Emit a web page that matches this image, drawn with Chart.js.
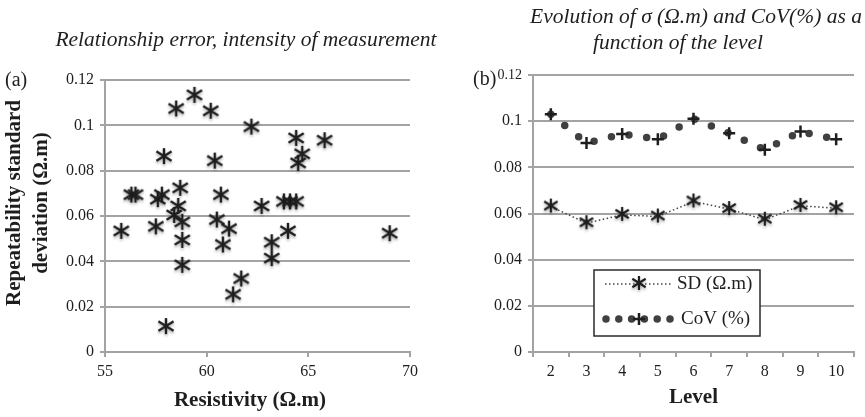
<!DOCTYPE html>
<html>
<head>
<meta charset="utf-8">
<script src="https://cdn.jsdelivr.net/npm/chart.js@4/dist/chart.umd.min.js"></script>
<style>
  html, body { margin: 0; padding: 0; background: #fff; }
  #wrap { position: relative; width: 865px; height: 417px; overflow: hidden; }
  canvas { position: absolute; top: 0; }
  #chartA { left: 0; }
  #chartB { left: 440px; }
</style>
</head>
<body>
<div id="wrap">
  <canvas id="chartA" width="440" height="417"></canvas>
  <canvas id="chartB" width="425" height="417"></canvas>
</div>
<script>
// ---- panel (a): repeatability standard deviation vs resistivity
const resistivity = [55.8, 56.3, 56.5, 57.5, 57.6, 57.8, 57.9, 58.0, 58.4, 58.5,
                     58.6, 58.7, 58.8, 58.8, 58.8, 59.4, 60.2, 60.4, 60.5, 60.7,
                     60.8, 61.1, 61.3, 61.7, 62.2, 62.7, 63.2, 63.2, 63.8, 64.0,
                     64.1, 64.4, 64.4, 64.5, 64.7, 65.8, 69.0];
const repeatSD    = [0.053, 0.069, 0.069, 0.055, 0.067, 0.069, 0.086, 0.011, 0.060, 0.107,
                     0.064, 0.072, 0.057, 0.049, 0.038, 0.113, 0.106, 0.084, 0.058, 0.069,
                     0.047, 0.054, 0.025, 0.032, 0.099, 0.064, 0.048, 0.041, 0.066, 0.053,
                     0.066, 0.066, 0.094, 0.083, 0.087, 0.093, 0.052];
const xTicksA = [55, 60, 65, 70];

// ---- panel (b): SD and CoV by level
const levels     = ['2', '3', '4', '5', '6', '7', '8', '9', '10'];
const sdByLevel  = [0.063, 0.0558, 0.0594, 0.0587, 0.0652, 0.0619, 0.0573, 0.0633, 0.0623];
const covByLevel = [0.103, 0.0905, 0.0944, 0.0922, 0.101, 0.0948, 0.0876, 0.0955, 0.0922];

const yTicks = [0, 0.02, 0.04, 0.06, 0.08, 0.1, 0.12];

const INK = '#1e1e1e';
const GRID = '#a3a3a3';
const SERIF = '"Liberation Serif", "Times New Roman", serif';

// six-armed asterisk marker drawn once into a small canvas
function asterisk(size, lw) {
  const pad = 5;
  const c = document.createElement('canvas');
  c.width = c.height = size + pad * 2;
  const g = c.getContext('2d');
  g.translate(c.width / 2, c.height / 2 - 1);
  g.strokeStyle = INK;
  g.lineWidth = lw;
  g.shadowColor = 'rgba(0,0,0,0.3)';
  g.shadowBlur = 3;
  g.shadowOffsetY = 2;
  const r = size / 2;
  g.beginPath();
  g.moveTo(0, -r); g.lineTo(0, r);
  g.moveTo(-r * 0.95, -r * 0.6); g.lineTo(r * 0.95, r * 0.6);
  g.moveTo(-r * 0.95, r * 0.6); g.lineTo(r * 0.95, -r * 0.6);
  g.stroke();
  return c;
}

const starA = asterisk(16, 2.4);
const starB = asterisk(14, 2.2);

const fmt = v => String(+v.toFixed(2));
const tickFont = { family: SERIF, size: 16 };
const titleFont = { family: SERIF, size: 21, weight: 'bold' };

// titles, axis titles and the (a)/(b) tags
const panelText = {
  id: 'panelText',
  afterDraw(chart, args, o) {
    const ctx = chart.ctx;
    ctx.save();
    ctx.fillStyle = INK;
    ctx.textBaseline = 'middle';
    ctx.textAlign = 'center';
    ctx.font = 'italic 21.5px ' + SERIF;
    o.title.forEach((line, i) => ctx.fillText(line, o.titleX[i], o.titleY + i * 26));
    ctx.font = 'bold 21px ' + SERIF;
    (o.axisTitles || []).forEach(t => {
      ctx.save();
      ctx.translate(t.x, t.y);
      ctx.rotate(t.rot || 0);
      ctx.fillText(t.text, 0, 0);
      ctx.restore();
    });
    ctx.textAlign = 'left';
    ctx.font = '20px ' + SERIF;
    ctx.fillText(o.tag, o.tagX, o.tagY);
    ctx.restore();
  }
};

// boxed legend sitting inside the plot of panel (b)
const legendBox = {
  id: 'legendBox',
  afterDatasetsDraw(chart) {
    const ctx = chart.ctx;
    const x = 154, y = 270, w = 166, h = 66;
    ctx.save();
    ctx.fillStyle = '#fff';
    ctx.fillRect(x, y, w, h);
    ctx.strokeStyle = '#2a2a2a';
    ctx.lineWidth = 1.5;
    ctx.strokeRect(x, y, w, h);

    // SD row
    const r1 = 284;
    ctx.strokeStyle = '#444';
    ctx.lineWidth = 1.5;
    ctx.setLineDash([1.5, 2.5]);
    ctx.beginPath(); ctx.moveTo(165, r1); ctx.lineTo(233, r1); ctx.stroke();
    ctx.setLineDash([]);
    ctx.drawImage(starB, 199 - starB.width / 2, r1 - starB.height / 2);

    // CoV row
    const r2 = 319;
    ctx.strokeStyle = '#404040';
    ctx.lineWidth = 7.5;
    ctx.lineCap = 'round';
    ctx.setLineDash([0, 12.8]);
    ctx.beginPath(); ctx.moveTo(166, r2); ctx.lineTo(232, r2); ctx.stroke();
    ctx.setLineDash([]);
    ctx.lineCap = 'butt';
    ctx.strokeStyle = INK;
    ctx.lineWidth = 2.5;
    ctx.beginPath();
    ctx.moveTo(193, r2); ctx.lineTo(205, r2);
    ctx.moveTo(199, r2 - 6); ctx.lineTo(199, r2 + 6);
    ctx.stroke();

    ctx.fillStyle = INK;
    ctx.font = '19px ' + SERIF;
    ctx.textBaseline = 'middle';
    ctx.fillText('SD (Ω.m)', 237, r1);
    ctx.fillText('CoV (%)', 241, r2);
    ctx.restore();
  }
};

new Chart(document.getElementById('chartA'), {
  type: 'scatter',
  data: {
    datasets: [{
      label: 'Repeatability SD',
      data: resistivity.map((x, i) => ({ x: x, y: repeatSD[i] })),
      pointStyle: starA,
      pointRadius: 8,
      showLine: false
    }]
  },
  options: {
    responsive: false,
    animation: false,
    layout: { padding: { top: 80, right: 30, left: 0, bottom: 0 } },
    plugins: {
      legend: { display: false },
      tooltip: { enabled: false },
      panelText: {
        title: ['Relationship error, intensity of measurement'],
        titleX: [246], titleY: 40,
        tag: '(a)', tagX: 5, tagY: 81,
        axisTitles: [
          { text: 'Resistivity (Ω.m)', x: 250, y: 401 },
          { text: 'Repeatability standard', x: 15, y: 203, rot: -Math.PI / 2 },
          { text: 'deviation (Ω.m)', x: 42, y: 203, rot: -Math.PI / 2 }
        ]
      }
    },
    scales: {
      x: {
        type: 'linear', min: 55, max: 70,
        afterBuildTicks: s => { s.ticks = xTicksA.map(v => ({ value: v })); },
        afterFit: s => { s.height = 65; },
        ticks: { color: INK, font: tickFont, padding: 5 },
        grid: { drawOnChartArea: false, color: GRID, lineWidth: 2, tickLength: 5 },
        border: { color: GRID, width: 2 }
      },
      y: {
        min: 0, max: 0.12,
        afterBuildTicks: s => { s.ticks = yTicks.map(v => ({ value: v })); },
        afterFit: s => { s.width = 105; },
        ticks: { color: INK, font: tickFont, padding: 6, callback: fmt },
        grid: { color: GRID, lineWidth: 2, tickLength: 5 },
        border: { color: GRID, width: 2 }
      }
    }
  },
  plugins: [panelText]
});

new Chart(document.getElementById('chartB'), {
  type: 'line',
  data: {
    labels: levels,
    datasets: [{
      label: 'SD (Ω.m)',
      data: sdByLevel,
      borderColor: '#444',
      borderWidth: 1.5,
      borderDash: [1.5, 2.5],
      pointStyle: starB,
      pointRadius: 7,
      tension: 0
    }, {
      label: 'CoV (%)',
      data: covByLevel,
      borderColor: '#404040',
      borderWidth: 7.5,
      borderDash: [0, 17.9],
      borderCapStyle: 'round',
      pointStyle: 'cross',
      pointRadius: 6,
      pointBorderWidth: 2.5,
      pointBorderColor: INK,
      tension: 0
    }]
  },
  options: {
    responsive: false,
    animation: false,
    layout: { padding: { top: 75, right: 11, left: 0, bottom: 0 } },
    plugins: {
      legend: { display: false },
      tooltip: { enabled: false },
      panelText: {
        title: ['Evolution of σ (Ω.m) and CoV(%) as a', 'function of the level'],
        titleX: [256, 238], titleY: 17,
        tag: '(b)', tagX: 33, tagY: 80
      }
    },
    scales: {
      x: {
        offset: true,
        afterFit: s => { s.height = 65; },
        ticks: { color: INK, font: tickFont, padding: 5 },
        grid: { offset: true, drawOnChartArea: false, color: GRID, lineWidth: 2, tickLength: 5 },
        border: { color: GRID, width: 2 },
        title: { display: true, text: 'Level', color: INK, font: titleFont, padding: { top: 0, bottom: 7 } }
      },
      y: {
        min: 0, max: 0.12,
        afterBuildTicks: s => { s.ticks = yTicks.map(v => ({ value: v })); },
        afterFit: s => { s.width = 93; },
        ticks: {
          color: INK, padding: 6, callback: fmt,
          // the top label is squeezed next to the (b) tag in the original
          font: c => (c.tick && c.tick.value === 0.12) ? { family: SERIF, size: 14 } : tickFont
        },
        grid: { color: GRID, lineWidth: 2, tickLength: 5 },
        border: { color: GRID, width: 2 }
      }
    }
  },
  plugins: [panelText, legendBox]
});
</script>
</body>
</html>
